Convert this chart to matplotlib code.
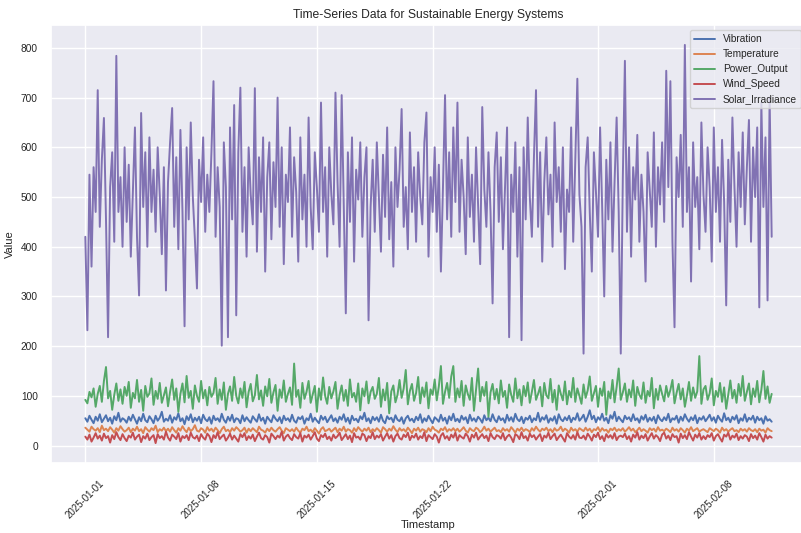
import matplotlib
matplotlib.use("Agg")
import matplotlib.pyplot as plt
import seaborn as sns
import pandas as pd
import numpy as np

# 3-hourly readings, 2025-01-01 00:00 onwards
start = "2025-01-01"
n_points = 333

vibration = [
    55, 48, 60, 52, 45, 58, 50, 63, 47, 54, 61, 49, 56, 44, 59, 51, 66, 48, 55, 52,
    46, 58, 50, 62, 53, 44, 57, 49, 64, 51, 47, 59, 53, 45, 60, 50, 56, 68, 48, 54,
    50, 61, 46, 57, 52, 65, 49, 55, 43, 59, 51, 63, 47, 56, 50, 58, 45, 62, 53, 49,
    57, 44, 60, 51, 55, 48, 64, 52, 46, 58, 50, 62, 47, 55, 53, 45, 61, 49, 57, 51,
    46, 59, 53, 48, 63, 50, 56, 44, 58, 52, 47, 61, 54, 49, 57, 45, 60, 51, 55, 48,
    62, 50, 46, 57, 53, 59, 44, 55, 51, 64, 48, 56, 50, 45, 60, 52, 58, 47, 54, 61,
    49, 55, 46, 58, 52, 63, 48, 56, 44, 60, 51, 54, 47, 59, 53, 66, 49, 55, 45, 58,
    51, 57, 48, 62, 50, 45, 59, 53, 56, 47, 61, 52, 49, 57, 44, 55, 60, 50, 54, 47,
    58, 51, 63, 46, 55, 49, 60, 52, 45, 57, 53, 48, 62, 50, 56, 44, 59, 51, 64, 49,
    54, 47, 60, 52, 57, 45, 62, 50, 55, 48, 58, 53, 46, 61, 51, 56, 49, 63, 52, 47,
    59, 51, 55, 46, 62, 50, 57, 48, 64, 53, 49, 58, 45, 56, 52, 60, 47, 55, 51, 66,
    48, 57, 52, 61, 46, 55, 50, 59, 44, 63, 53, 49, 57, 51, 60, 47, 56, 52, 65, 50,
    55, 62, 48, 58, 71, 53, 60, 47, 57, 52, 64, 50, 56, 45, 61, 54, 68, 49, 58, 52,
    47, 60, 53, 57, 49, 63, 51, 55, 46, 59, 52, 62, 48, 56, 50, 58, 45, 61, 53, 49,
    57, 51, 64, 47, 55, 52, 60, 46, 58, 50, 63, 54, 48, 57, 51, 61, 45, 56, 52, 59,
    49, 55, 62, 50, 57, 46, 60, 53, 48, 65, 51, 56, 47, 58, 52, 61, 45, 55, 50, 63,
    48, 56, 52, 60, 46, 58, 51, 55, 44, 59, 50, 53, 48,
]

temperature = [
    36, 32, 28, 38, 33, 30, 35, 27, 40, 31, 34, 29, 37, 32, 26, 35, 30, 39, 33, 28,
    31, 36, 27, 34, 30, 38, 29, 33, 25, 37, 32, 28, 35, 31, 40, 27, 33, 30, 36, 29,
    34, 28, 37, 31, 26, 35, 30, 39, 32, 27, 36, 29, 33, 41, 30, 28, 35, 32, 26, 37,
    30, 34, 28, 36, 31, 25, 33, 38, 29, 32, 27, 35, 30, 37, 33, 28, 31, 36, 26, 34,
    29, 35, 31, 27, 38, 32, 30, 26, 34, 29, 36, 31, 28, 33, 37, 30, 25, 35, 32, 29,
    33, 28, 36, 30, 26, 34, 31, 38, 29, 32, 27, 35, 30, 24, 33, 37, 29, 31, 34, 28,
    32, 36, 27, 34, 30, 38, 28, 33, 31, 26, 35, 29, 37, 32, 28, 34, 30, 36, 27, 33,
    29, 35, 31, 26, 37, 33, 28, 34, 30, 39, 32, 27, 35, 30, 33, 28, 36, 31, 25, 34,
    30, 36, 28, 33, 31, 27, 35, 29, 38, 32, 30, 26, 34, 31, 37, 28, 33, 30, 35, 29,
    34, 28, 32, 37, 30, 26, 35, 31, 29, 36, 33, 27, 31, 38, 30, 34, 28, 32, 36, 29,
    31, 27, 35, 30, 33, 28, 37, 32, 26, 34, 30, 36, 29, 33, 31, 27, 35, 30, 38, 32,
    28, 34, 31, 36, 29, 33, 27, 35, 30, 32, 38, 29, 34, 31, 26, 36, 30, 33, 28, 35,
    32, 29, 36, 30, 34, 27, 33, 31, 37, 28, 35, 30, 32, 26, 34, 31, 36, 29, 33, 30,
    35, 28, 32, 37, 30, 34, 27, 31, 36, 29, 33, 30, 26, 35, 31, 34, 28, 37, 30, 32,
    29, 34, 31, 27, 36, 30, 33, 28, 35, 31, 26, 34, 30, 37, 29, 32, 35, 28, 31, 33,
    30, 27, 35, 32, 29, 34, 31, 26, 36, 30, 33, 28, 32, 35, 29, 31, 27, 34, 30, 33,
    28, 35, 31, 29, 33, 27, 34, 30, 32, 26, 35, 31, 29,
]

power_output = [
    92, 85, 108, 97, 115, 78, 104, 120, 88, 130, 158, 95, 110, 72, 102, 125, 90, 113, 84, 118,
    100, 128, 76, 106, 95, 132, 88, 112, 70, 120, 98, 105, 135, 82, 110, 94, 126, 86, 101, 117,
    79, 108, 133, 92, 115, 68, 104, 125, 87, 140, 96, 110, 74, 121, 100, 88, 130, 95, 112, 81,
    118, 98, 106, 136, 84, 113, 92, 127, 72, 104, 119, 90, 138, 100, 85, 115, 96, 128, 77, 108,
    124, 89, 101, 142, 93, 111, 80, 119, 99, 134, 86, 107, 122, 70, 113, 96, 131, 88, 104, 117,
    82, 165, 98, 112, 76, 126, 94, 108, 130, 86, 103, 120, 68, 115, 92, 137, 100, 84, 118, 95,
    109, 128, 74, 102, 121, 90, 112, 80, 133, 97, 106, 88, 125, 71, 115, 99, 129, 85, 108, 118,
    94, 104, 136, 78, 113, 91, 126, 65, 109, 121, 87, 102, 132, 96, 115, 152, 83, 110, 124, 90,
    106, 138, 85, 117, 98, 127, 75, 113, 102, 133, 91, 119, 160, 84, 108, 126, 96, 139, 160, 88,
    115, 97, 130, 80, 121, 104, 92, 136, 70, 112, 155, 89, 118, 100, 128, 58, 107, 124, 93, 114,
    85, 131, 98, 110, 76, 123, 102, 88, 135, 95, 113, 81, 120, 99, 127, 86, 108, 132, 92, 104,
    118, 79, 126, 101, 95, 134, 87, 112, 72, 121, 104, 91, 129, 83, 110, 97, 136, 88, 115, 100,
    84, 123, 96, 111, 139, 90, 105, 120, 78, 115, 100, 128, 62, 109, 95, 132, 87, 118, 155, 92,
    107, 125, 88, 113, 97, 131, 80, 118, 102, 94, 127, 86, 110, 99, 136, 75, 114, 92, 121, 104,
    89, 120, 98, 112, 132, 85, 106, 124, 93, 115, 78, 101, 128, 90, 117, 96, 109, 180, 84, 113,
    120, 92, 105, 135, 81, 110, 98, 126, 88, 117, 74, 103, 131, 95, 112, 86, 124, 100, 140, 90,
    108, 125, 83, 115, 98, 130, 87, 112, 150, 94, 119, 86, 104,
]

wind_speed = [
    18, 12, 22, 8, 16, 25, 14, 20, 10, 24, 15, 19, 6, 21, 13, 27, 17, 11, 23, 15,
    9, 20, 16, 26, 12, 18, 22, 7, 19, 14, 24, 11, 17, 21, 5, 23, 15, 19, 12, 28,
    16, 10, 22, 18, 13, 25, 8, 19, 15, 21, 11, 26, 17, 14, 20, 9, 23, 16, 12, 24,
    19, 7, 21, 15, 27, 13, 18, 22, 10, 16, 24, 12, 20, 14, 8, 23, 17, 25, 11, 19,
    14, 22, 9, 18, 26, 15, 12, 21, 17, 6, 24, 19, 13, 20, 16, 28, 10, 18, 22, 15,
    11, 23, 17, 14, 25, 8, 20, 16, 22, 12, 19, 27, 14, 9, 21, 17, 24, 13, 18, 10,
    22, 15, 19, 26, 11, 17, 23, 13, 20, 7, 25, 16, 18, 12, 24, 21, 9, 19, 15, 27,
    13, 20, 16, 23, 10, 18, 25, 14, 21, 8, 19, 24, 15, 12, 22, 17, 26, 11, 20, 16,
    24, 12, 19, 15, 27, 9, 21, 17, 13, 23, 18, 6, 20, 25, 14, 19, 11, 22, 16, 26,
    10, 21, 17, 14, 24, 19, 8, 22, 16, 26, 12, 18, 23, 15, 20, 9, 25, 17, 13, 21,
    19, 14, 25, 11, 18, 22, 16, 7, 23, 20, 13, 27, 15, 19, 10, 24, 17, 21, 12, 18,
    23, 9, 20, 16, 26, 13, 19, 24, 11, 17, 22, 15, 8, 25, 18, 14, 21, 12, 27, 16,
    15, 20, 12, 24, 18, 10, 22, 17, 26, 13, 19, 9, 23, 16, 21, 14, 25, 11, 18, 20,
    17, 24, 13, 19, 8, 22, 16, 27, 12, 20, 15, 23, 10, 18, 25, 14, 21, 17, 9, 22,
    26, 14, 20, 11, 23, 17, 19, 6, 24, 15, 21, 13, 27, 18, 10, 22, 16, 25, 12, 19,
    13, 21, 17, 25, 10, 19, 23, 15, 8, 22, 18, 26, 12, 20, 16, 24, 11, 19, 14, 21,
    18, 9, 23, 15, 20, 12, 25, 17, 8, 22, 14, 19, 16,
]

solar_irradiance = [
    420, 232, 545, 360, 560, 470, 715, 440, 575, 659, 455, 218, 520, 590, 410, 784, 470, 540, 400, 600,
    450, 565, 380, 510, 640, 420, 302, 669, 480, 590, 400, 620, 470, 555, 430, 600, 505, 385, 560, 312,
    530, 610, 679, 440, 580, 395, 635, 470, 240, 600, 455, 650, 500, 415, 316, 575, 490, 620, 430, 545,
    470, 590, 733, 420, 560, 480, 201, 610, 520, 218, 640, 455, 685, 262, 590, 720, 430, 560, 380, 600,
    505, 445, 719, 390, 580, 470, 620, 350, 540, 610, 415, 570, 480, 700, 440, 600, 365, 545, 490, 640,
    420, 580, 510, 370, 620, 455, 545, 400, 660, 480, 395, 590, 520, 430, 690, 470, 560, 380, 600, 505,
    445, 710, 530, 400, 705, 480, 266, 590, 450, 620, 370, 555, 495, 610, 420, 540, 600, 252, 480, 575,
    430, 610, 500, 390, 585, 460, 640, 415, 530, 360, 600, 480, 555, 677, 440, 520, 395, 630, 470, 560,
    410, 590, 500, 445, 610, 670, 380, 540, 470, 600, 430, 565, 350, 520, 705, 455, 590, 420, 640, 490,
    690, 430, 575, 500, 385, 620, 460, 545, 410, 600, 480, 365, 681, 515, 440, 590, 470, 286, 560, 630,
    450, 580, 395, 520, 640, 218, 545, 470, 610, 380, 560, 212, 600, 455, 660, 500, 420, 580, 715, 440,
    590, 370, 530, 620, 465, 545, 400, 650, 490, 560, 430, 600, 355, 515, 470, 640, 410, 570, 738, 505,
    440, 185, 560, 620, 470, 350, 590, 510, 420, 640, 480, 300, 575, 455, 610, 390, 530, 660, 470, 185,
    540, 774, 430, 600, 380, 560, 495, 625, 410, 545, 470, 330, 590, 515, 440, 630, 400, 560, 485, 610,
    450, 754, 520, 733, 410, 238, 580, 500, 625, 440, 806, 470, 560, 330, 610, 480, 540, 395, 650, 505,
    430, 600, 520, 370, 640, 470, 560, 410, 615, 490, 282, 575, 450, 660, 520, 400, 590, 480, 630, 445,
    560, 655, 410, 600, 500, 640, 278, 690, 480, 620, 292, 700, 420,
]

series_names = ["Vibration", "Temperature", "Power_Output", "Wind_Speed", "Solar_Irradiance"]

timestamps = pd.date_range(start, periods=n_points, freq="3h")
df = pd.DataFrame({
    "Vibration": vibration,
    "Temperature": temperature,
    "Power_Output": power_output,
    "Wind_Speed": wind_speed,
    "Solar_Irradiance": solar_irradiance,
}, index=timestamps)

sns.set_theme(style="darkgrid")
plt.rcParams["font.family"] = ["Liberation Sans", "DejaVu Sans"]

fig = plt.figure(figsize=(8.01, 5.33), dpi=100)
ax = fig.add_axes([51 / 801, 70 / 533, 755 / 801, 438 / 533])

for name in series_names:
    ax.plot(df.index, df[name], label=name, linewidth=1.4)

ax.set_title("Time-Series Data for Sustainable Energy Systems", fontsize=8.7, pad=5)
ax.set_xlabel("Timestamp", fontsize=8, labelpad=0)
ax.set_ylabel("Value", fontsize=8)
ax.tick_params(axis="y", labelsize=7.3)
ax.tick_params(axis="x", labelsize=7.0, pad=5)
plt.setp(ax.get_xticklabels(), rotation=45)
ax.legend(loc="upper right", fontsize=7.3)

fig.savefig("out.png", dpi=100)
